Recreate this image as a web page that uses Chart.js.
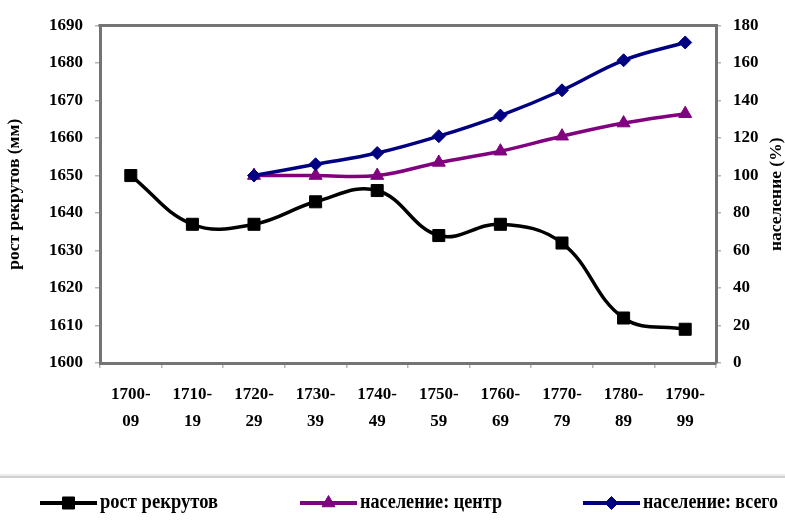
<!DOCTYPE html>
<html><head><meta charset="utf-8">
<script src="https://cdn.jsdelivr.net/npm/chart.js@4/dist/chart.umd.min.js"></script>
<style>html,body{margin:0;padding:0;background:#fff}#wrap{width:785px;height:528px}</style>
</head><body><div id="wrap"><canvas id="c" width="785" height="528"></canvas></div>
<script>
// ---- data ----
const categories = ['1700-09','1710-19','1720-29','1730-39','1740-49','1750-59','1760-69','1770-79','1780-89','1790-99'];
const xTickLabels = [['1700-','09'],['1710-','19'],['1720-','29'],['1730-','39'],['1740-','49'],['1750-','59'],['1760-','69'],['1770-','79'],['1780-','89'],['1790-','99']];
const recruitHeight = [1650, 1637, 1637, 1643, 1646, 1634, 1637, 1632, 1612, 1609];
const popCenter = [null, null, 100, 100, 100, 107, 113, 121, 128, 133];
const popTotal = [null, null, 100, 106, 112, 121, 132, 145.5, 161.5, 171];
const seriesNames = ['рост рекрутов', 'население: центр', 'население: всего'];
const leftAxisTitle = 'рост рекрутов (мм)';
const rightAxisTitle = 'население (%)';
const leftMin = 1600, leftMax = 1690, leftStep = 10;
const rightMin = 0, rightMax = 180, rightStep = 20;

// ---- styles ----
const FAMILY = "'Liberation Serif', 'Times New Roman', serif";
const tickFont = {family: FAMILY, size: 17, weight: 'bold', lineHeight: 1.6};
const titleFont = {family: FAMILY, size: 17.5, weight: 'bold'};
const AXIS = '#747474';
const TICK = '#b5b5b5';

const boxPlugin = {
  id: 'box',
  beforeDatasetsDraw(chart) {
    const {ctx, chartArea: a} = chart;
    ctx.save();
    ctx.strokeStyle = AXIS; ctx.lineWidth = 3;
    ctx.beginPath();
    ctx.moveTo(a.left - 1.5, a.top); ctx.lineTo(a.right + 1.5, a.top);
    ctx.stroke();
    ctx.restore();
  },
  afterDraw(chart) {
    const ctx = chart.ctx;
    const a = chart.chartArea;
    ctx.save();
    // right axis title, reading bottom to top
    ctx.save();
    ctx.translate(chart.width - 9, (a.top + a.bottom) / 2);
    ctx.rotate(-Math.PI / 2);
    ctx.font = 'bold 17.5px ' + FAMILY;
    ctx.fillStyle = '#000'; ctx.textAlign = 'center'; ctx.textBaseline = 'middle';
    ctx.fillText(rightAxisTitle, 0, 0);
    ctx.restore();
    // legend frame top edge
    ctx.strokeStyle = '#d0d0d0'; ctx.lineWidth = 2;
    ctx.beginPath(); ctx.moveTo(0, 477); ctx.lineTo(chart.width, 477); ctx.stroke();
    ctx.strokeStyle = '#ececec'; ctx.lineWidth = 2;
    ctx.beginPath(); ctx.moveTo(0, 475); ctx.lineTo(chart.width, 475); ctx.stroke();
    const starts = [40, 300, 583];
    const widths = [118, 142, 135];
    const y = 503;
    chart.data.datasets.forEach((ds, i) => {
      const x0 = starts[i];
      ctx.strokeStyle = ds.borderColor; ctx.lineWidth = 4;
      ctx.beginPath(); ctx.moveTo(x0, y); ctx.lineTo(x0 + 57, y); ctx.stroke();
      ctx.fillStyle = ds.borderColor; ctx.strokeStyle = ds.borderColor; ctx.lineWidth = 1;
      Chart.helpers.drawPoint(ctx, {pointStyle: ds.pointStyle, radius: ds.pointRadius, rotation: 0, borderWidth: 1}, x0 + 28.5, y);
      ctx.fillStyle = '#000';
      ctx.font = 'bold 20px ' + FAMILY;
      ctx.textBaseline = 'middle'; ctx.textAlign = 'left';
      ctx.fillText(ds.label, x0 + 60, y, widths[i]);
    });
    ctx.restore();
  }
};

const plainNum = v => String(v);

new Chart(document.getElementById('c'), {
  type: 'line',
  data: {
    labels: xTickLabels,
    datasets: [
      {label: seriesNames[0], data: recruitHeight, yAxisID: 'y', borderColor: '#000000', backgroundColor: '#000000',
       pointStyle: 'rect', pointRadius: 8.5, pointBorderWidth: 1, borderWidth: 3.5, tension: 0.4, order: 0},
      {label: seriesNames[1], data: popCenter, yAxisID: 'y1', borderColor: '#800080', backgroundColor: '#800080',
       pointStyle: 'triangle', pointRadius: 7.5, pointBorderWidth: 1, borderWidth: 3.5, tension: 0.4, order: 2},
      {label: seriesNames[2], data: popTotal, yAxisID: 'y1', borderColor: '#000080', backgroundColor: '#000080',
       pointStyle: 'rectRot', pointRadius: 6.5, pointBorderWidth: 1, borderWidth: 3.5, tension: 0.4, order: 1}
    ]
  },
  options: {
    responsive: false, animation: false, devicePixelRatio: 1,
    layout: {padding: {top: 22, left: 0, right: 0, bottom: 0}},
    plugins: {legend: {display: false}, tooltip: {enabled: false}},
    scales: {
      x: {
        offset: true,
        grid: {offset: true, drawOnChartArea: false, tickLength: 5, color: TICK, lineWidth: 1.5},
        border: {color: AXIS, width: 3},
        ticks: {font: tickFont, color: '#000', padding: 13, maxRotation: 0, autoSkip: false},
        afterFit(s) { s.height = 165; }
      },
      y: {
        position: 'left', min: leftMin, max: leftMax,
        grid: {drawOnChartArea: false, tickLength: 5, color: TICK, lineWidth: 1.5},
        border: {color: AXIS, width: 3},
        ticks: {stepSize: leftStep, font: tickFont, color: '#000', padding: 12, callback: plainNum},
        title: {display: true, text: leftAxisTitle, font: titleFont, color: '#000', padding: 4},
        afterFit(s) { s.width = 100; }
      },
      y1: {
        position: 'right', min: rightMin, max: rightMax,
        grid: {drawOnChartArea: false, tickLength: 5, color: TICK, lineWidth: 1.5},
        border: {color: AXIS, width: 3},
        ticks: {stepSize: rightStep, font: tickFont, color: '#000', padding: 12, callback: plainNum},
        title: {display: false, text: rightAxisTitle},
        afterFit(s) { s.width = 69; }
      }
    }
  },
  plugins: [boxPlugin]
});
</script></body></html>
